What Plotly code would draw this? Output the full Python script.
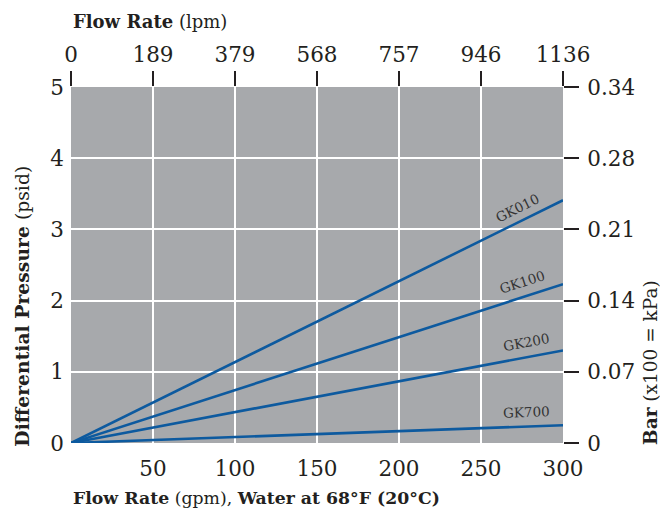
import math
import plotly.graph_objects as go

# ---- data ----
flow_gpm = [0, 300]
series_names = ["GK010", "GK100", "GK200", "GK700"]
gk010 = [0, 3.41]
gk100 = [0, 2.23]
gk200 = [0, 1.30]
gk700 = [0, 0.25]
series_values = [gk010, gk100, gk200, gk700]

bottom_ticks = [50, 100, 150, 200, 250, 300]
top_tick_gpm = [0, 50, 100, 150, 200, 250, 300]
top_tick_lpm = ["0", "189", "379", "568", "757", "946", "1136"]
left_ticks = [0, 1, 2, 3, 4, 5]
right_tick_bar = ["0", "0.07", "0.14", "0.21", "0.28", "0.34"]

# ---- layout constants (page body has an 8px default margin) ----
W, H = 660, 501
ML, MR, MT, MB = 63, 105, 79, 66
PW, PH = W - ML - MR, H - MT - MB
FONT = "DejaVu Serif"
TXT = "#231f20"
LINE = "#0d5a9f"
BG = "#a7a9ac"

fig = go.Figure()
for name, vals in zip(series_names, series_values):
    fig.add_trace(go.Scatter(x=flow_gpm, y=vals, mode="lines", name=name,
                             line=dict(color=LINE, width=2.6), showlegend=False,
                             cliponaxis=False))

# invisible traces to activate the secondary axes
fig.add_trace(go.Scatter(x=[0], y=[0], xaxis="x2", yaxis="y", mode="markers",
                         marker=dict(opacity=0), showlegend=False, hoverinfo="skip"))
fig.add_trace(go.Scatter(x=[0], y=[0], xaxis="x", yaxis="y2", mode="markers",
                         marker=dict(opacity=0), showlegend=False, hoverinfo="skip"))

# line labels
label_x = [272, 275, 278, 278]
for name, vals, lx in zip(series_names, series_values, label_x):
    slope = vals[-1] / flow_gpm[-1]
    ly = slope * lx
    ang = -math.degrees(math.atan((vals[-1] / 5 * PH) / PW))
    fig.add_annotation(x=lx, y=ly, text=name, showarrow=False, textangle=ang,
                       yshift=15, font=dict(family=FONT, size=13.5, color="#333333"))

tick_font = dict(family=FONT, size=21.5, color=TXT)

fig.update_layout(
    width=W, height=H,
    margin=dict(l=ML, r=MR, t=MT, b=MB, autoexpand=False),
    paper_bgcolor="white", plot_bgcolor=BG,
    font=dict(family=FONT, color=TXT),
    xaxis=dict(range=[0, 300], tickvals=bottom_ticks, ticks="", showline=False,
               showgrid=True, gridcolor="white", gridwidth=1.5, zeroline=False,
               tickfont=tick_font, ticklabelstandoff=10, automargin=False),
    xaxis2=dict(range=[0, 300], overlaying="x", side="top", tickvals=top_tick_gpm,
                ticktext=top_tick_lpm, ticks="outside", ticklen=15, tickwidth=1.5,
                tickcolor=TXT, showgrid=False, zeroline=False, showline=False,
                tickfont=tick_font, automargin=False),
    yaxis=dict(range=[0, 5], tickvals=left_ticks, ticks="", showline=False,
               showgrid=True, gridcolor="white", gridwidth=1.5, zeroline=False,
               tickfont=tick_font, ticklabelstandoff=6, automargin=False),
    yaxis2=dict(range=[0, 5], overlaying="y", side="right", tickvals=left_ticks,
                ticktext=right_tick_bar, ticks="outside", ticklen=15, tickwidth=1.5,
                tickcolor=TXT, showgrid=False, zeroline=False, showline=False,
                tickfont=tick_font, ticklabelstandoff=4, automargin=False),
)

# axis titles
fig.add_annotation(xref="paper", yref="paper", x=0, y=1, xanchor="left", yanchor="bottom",
                   yshift=53, showarrow=False, align="left",
                   text="<b>Flow Rate</b> (lpm)",
                   font=dict(family=FONT, size=18, color=TXT))
fig.add_annotation(xref="paper", yref="paper", x=0, y=0, xanchor="left", yanchor="top",
                   yshift=-43, showarrow=False, align="left",
                   text="<b>Flow Rate</b> (gpm), <b>Water at 68°F (20°C)</b>",
                   font=dict(family=FONT, size=17.3, color=TXT))
fig.add_annotation(xref="paper", yref="paper", x=0, y=0.383, xanchor="center", yanchor="middle",
                   xshift=-49, showarrow=False, textangle=-90,
                   text="<b>Differential Pressure</b> (psid)",
                   font=dict(family=FONT, size=18.8, color=TXT))
fig.add_annotation(xref="paper", yref="paper", x=1, y=0.225, xanchor="center", yanchor="middle",
                   xshift=88, showarrow=False, textangle=-90,
                   text="<b>Bar</b> (x100 = kPa)",
                   font=dict(family=FONT, size=18.5, color=TXT))

fig.write_html("out.html")
